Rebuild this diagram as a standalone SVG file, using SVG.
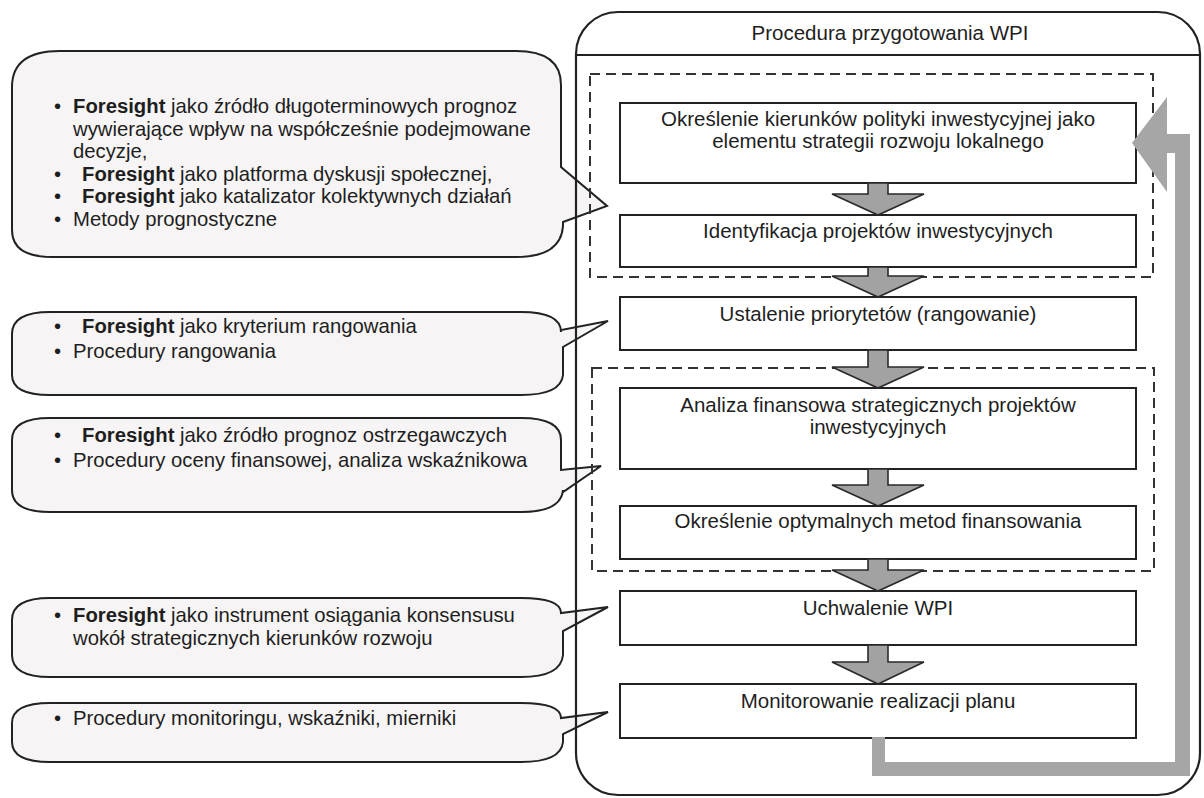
<svg xmlns="http://www.w3.org/2000/svg" width="1204" height="798" viewBox="0 0 1204 798">
  <style>
    text { font-family: "Liberation Sans", Arial, sans-serif; fill: #1e1e1e; }
    .t { font-size: 20.5px; text-anchor: middle; }
    .c { font-size: 20.3px; }
    .b { font-weight: bold; }
    .callout { fill: #f6f4f4; stroke: #222; stroke-width: 2; stroke-linejoin: miter; }
    .box { fill: #ffffff; stroke: #222; stroke-width: 2; }
    .dash { fill: none; stroke: #333; stroke-width: 2; stroke-dasharray: 10 6; }
    .frame { fill: none; stroke: #222; stroke-width: 2.2; }
    .down { fill: #a2a2a2; stroke: #2a2a2a; stroke-width: 1.6; stroke-linejoin: miter; }
    .loop { fill: #a6a6a6; stroke: none; }
  </style>
  <rect x="0" y="0" width="1204" height="798" fill="#ffffff"/>

  <!-- Callouts -->
  <g id="callout-1">
    <path class="callout" d="M60,51 H516 Q561,51 561,85 V167 L607,206 L563,222 V226 Q561,257 516,257 H52 Q12,257 12,230 V87 Q12,51 60,51 Z"/>
    <text class="c" x="54" y="113">•</text>
    <text class="c" x="73" y="113"><tspan class="b">Foresight</tspan> jako źródło długoterminowych prognoz</text>
    <text class="c" x="73" y="135.5">wywierające wpływ na współcześnie podejmowane</text>
    <text class="c" x="73" y="158">decyzje,</text>
    <text class="c" x="54" y="180.5">•</text>
    <text class="c" x="82" y="180.5"><tspan class="b">Foresight</tspan> jako platforma dyskusji społecznej,</text>
    <text class="c" x="54" y="203">•</text>
    <text class="c" x="82" y="203"><tspan class="b">Foresight</tspan> jako katalizator kolektywnych działań</text>
    <text class="c" x="54" y="225.5">•</text>
    <text class="c" x="73" y="225.5">Metody prognostyczne</text>
  </g>

  <g id="callout-2">
    <path class="callout" d="M50,312 H521 Q561,312 561,332 V330 L608,321 L563,347 V375 Q561,395 521,395 H50 Q12,395 12,375 V334 Q12,312 50,312 Z"/>
    <text class="c" x="54" y="333">•</text>
    <text class="c" x="82" y="333"><tspan class="b">Foresight</tspan> jako kryterium rangowania</text>
    <text class="c" x="54" y="358">•</text>
    <text class="c" x="73" y="358">Procedury rangowania</text>
  </g>

  <g id="callout-3">
    <path class="callout" d="M50,418 H521 Q561,418 561,440 V470 L601,466 L563,492 V490 Q561,512 521,512 H50 Q12,512 12,490 V440 Q12,418 50,418 Z"/>
    <text class="c" x="54" y="442">•</text>
    <text class="c" x="82" y="442"><tspan class="b">Foresight</tspan> jako źródło prognoz ostrzegawczych</text>
    <text class="c" x="54" y="467">•</text>
    <text class="c" x="73" y="467">Procedury oceny finansowej, analiza wskaźnikowa</text>
  </g>

  <g id="callout-4">
    <path class="callout" d="M50,598 H521 Q561,598 561,613 L608,607 L563,631 V655 Q561,677 521,677 H50 Q12,677 12,655 V620 Q12,598 50,598 Z"/>
    <text class="c" x="54" y="622">•</text>
    <text class="c" x="73" y="622"><tspan class="b">Foresight</tspan> jako instrument osiągania konsensusu</text>
    <text class="c" x="73" y="645">wokół strategicznych kierunków rozwoju</text>
  </g>

  <g id="callout-5">
    <path class="callout" d="M50,703 H521 Q561,703 561,718 L608,712 L563,734 V742 Q561,762 521,762 H50 Q12,762 12,742 V723 Q12,703 50,703 Z"/>
    <text class="c" x="54" y="725">•</text>
    <text class="c" x="73" y="725">Procedury monitoringu, wskaźniki, mierniki</text>
  </g>

  <!-- Outer frame -->
  <g id="frame">
    <rect class="frame" x="576" y="12" width="624" height="783" rx="42" ry="42"/>
    <line x1="576" y1="55" x2="1200" y2="55" stroke="#222" stroke-width="2.2"/>
    <text class="t" x="890" y="40">Procedura przygotowania WPI</text>
  </g>

  <!-- Dashed groups -->
  <g id="group-1">
    <rect class="dash" x="590" y="74" width="563" height="203"/>
  </g>
  <g id="group-2">
    <rect class="dash" x="592" y="368" width="562" height="203"/>
  </g>

  <!-- Steps -->
  <g id="step-1">
    <rect class="box" x="620" y="103" width="516" height="80"/>
    <text class="t" x="878" y="126">Określenie kierunków polityki inwestycyjnej jako</text>
    <text class="t" x="878" y="148">elementu strategii rozwoju lokalnego</text>
  </g>
  <g id="step-2">
    <rect class="box" x="620" y="215" width="516" height="52"/>
    <text class="t" x="878" y="238">Identyfikacja projektów inwestycyjnych</text>
  </g>
  <g id="step-3">
    <rect class="box" x="620" y="297" width="516" height="53"/>
    <text class="t" x="878" y="321">Ustalenie priorytetów (rangowanie)</text>
  </g>
  <g id="step-4">
    <rect class="box" x="620" y="388" width="516" height="81"/>
    <text class="t" x="878" y="412">Analiza finansowa strategicznych projektów</text>
    <text class="t" x="878" y="434">inwestycyjnych</text>
  </g>
  <g id="step-5">
    <rect class="box" x="620" y="506" width="516" height="53"/>
    <text class="t" x="878" y="528">Określenie optymalnych metod finansowania</text>
  </g>
  <g id="step-6">
    <rect class="box" x="620" y="591" width="516" height="54"/>
    <text class="t" x="878" y="615">Uchwalenie WPI</text>
  </g>
  <g id="step-7">
    <rect class="box" x="620" y="684" width="516" height="54"/>
    <text class="t" x="878" y="708">Monitorowanie realizacji planu</text>
  </g>

  <!-- Connectors -->
  <g id="connectors">
    <polygon class="down" points="868,183 888,183 888,194 924,194 878,215 832,194 868,194"/>
    <polygon class="down" points="868,267 888,267 888,276 924,276 878,297 832,276 868,276"/>
    <polygon class="down" points="868,350 888,350 888,367 924,367 878,388 832,367 868,367"/>
    <polygon class="down" points="868,469 888,469 888,485 924,485 878,506 832,485 868,485"/>
    <polygon class="down" points="868,559 888,559 888,570 924,570 878,591 832,570 868,570"/>
    <polygon class="down" points="868,645 888,645 888,662 924,662 878,684 832,662 868,662"/>
    <polygon class="loop" points="872,737 885,737 885,762 1175,762 1175,153 1167,153 1167,192 1132,143 1167,97 1167,134 1190,134 1190,776 872,776"/>
  </g>
</svg>
